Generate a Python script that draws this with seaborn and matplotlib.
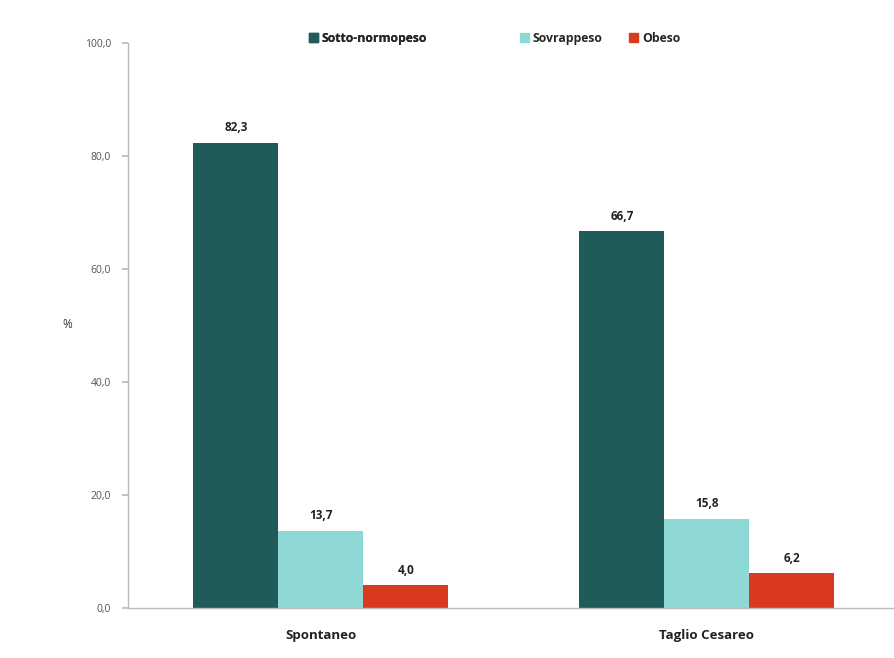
import matplotlib
matplotlib.use("Agg")
import matplotlib.pyplot as plt
import matplotlib.patches as mpatches
import seaborn as sns
import pandas as pd

categories = ["Spontaneo", "Taglio Cesareo"]
series = ["Sotto-normopeso", "Sovrappeso", "Obeso"]
values_sotto = [82.3, 66.7]
values_sovra = [13.7, 15.8]
values_obeso = [4.0, 6.2]
colors = ["#1E5B59", "#8ED8D5", "#D93A1E"]
yticks = [0, 20, 40, 60, 80, 100]

rows = []
for name, vals in zip(series, [values_sotto, values_sovra, values_obeso]):
    for cat, v in zip(categories, vals):
        rows.append({"Parto": cat, "Classe": name, "Valore": v})
df = pd.DataFrame(rows)

sns.set_theme(style="white")
plt.rcParams["font.family"] = ["Open Sans", "DejaVu Sans"]

fig = plt.figure(figsize=(8.94, 6.58), dpi=100)
ax = fig.add_axes([0.143, 0.076, 0.8635, 0.859])

sns.barplot(data=df, x="Parto", y="Valore", hue="Classe", hue_order=series,
            palette=colors, width=0.66, saturation=1, ax=ax, legend=False,
            edgecolor="none")

for cont in ax.containers:
    labels = [f"{v:.1f}".replace(".", ",") for v in cont.datavalues]
    ax.bar_label(cont, labels=labels, padding=6, fontsize=8.5,
                 fontweight="bold", color="#222222")

ax.set_ylim(0, 100)
ax.set_yticks(yticks)
ax.set_yticklabels([f"{t:.1f}".replace(".", ",") for t in yticks],
                   fontsize=7.5, color="#555555")
ax.set_xlabel("")
ax.set_ylabel("%", rotation=0, fontsize=8.5, color="#333333")
ax.yaxis.set_label_coords(-0.078, 0.49)
for lbl in ax.get_xticklabels():
    lbl.set_fontweight("bold")
    lbl.set_fontsize(9.5)
    lbl.set_color("#222222")

for side in ["top", "right"]:
    ax.spines[side].set_visible(False)
for side in ["left", "bottom"]:
    ax.spines[side].set_color("#BBBBBB")
    ax.spines[side].set_linewidth(1)
ax.tick_params(axis="y", which="major", left=True, length=4, color="#BBBBBB", pad=8)
ax.tick_params(axis="x", which="major", bottom=False, pad=9)

handles = [mpatches.Patch(color=c, label=s) for c, s in zip(colors, series)]
leg1 = fig.legend(handles=handles[:1], loc="center left",
                  bbox_to_anchor=(0.333, 0.942), frameon=False,
                  prop={"size": 8.8, "weight": "bold"},
                  handlelength=0.75, handleheight=0.75, handletextpad=0.3)
leg2 = fig.legend(handles=handles[1:], loc="center left",
                  bbox_to_anchor=(0.569, 0.942), frameon=False, ncol=2,
                  prop={"size": 8.8, "weight": "bold"},
                  handlelength=0.75, handleheight=0.75, handletextpad=0.3,
                  columnspacing=2.2)
fig.add_artist(leg1)

fig.savefig("out.png", dpi=100)
